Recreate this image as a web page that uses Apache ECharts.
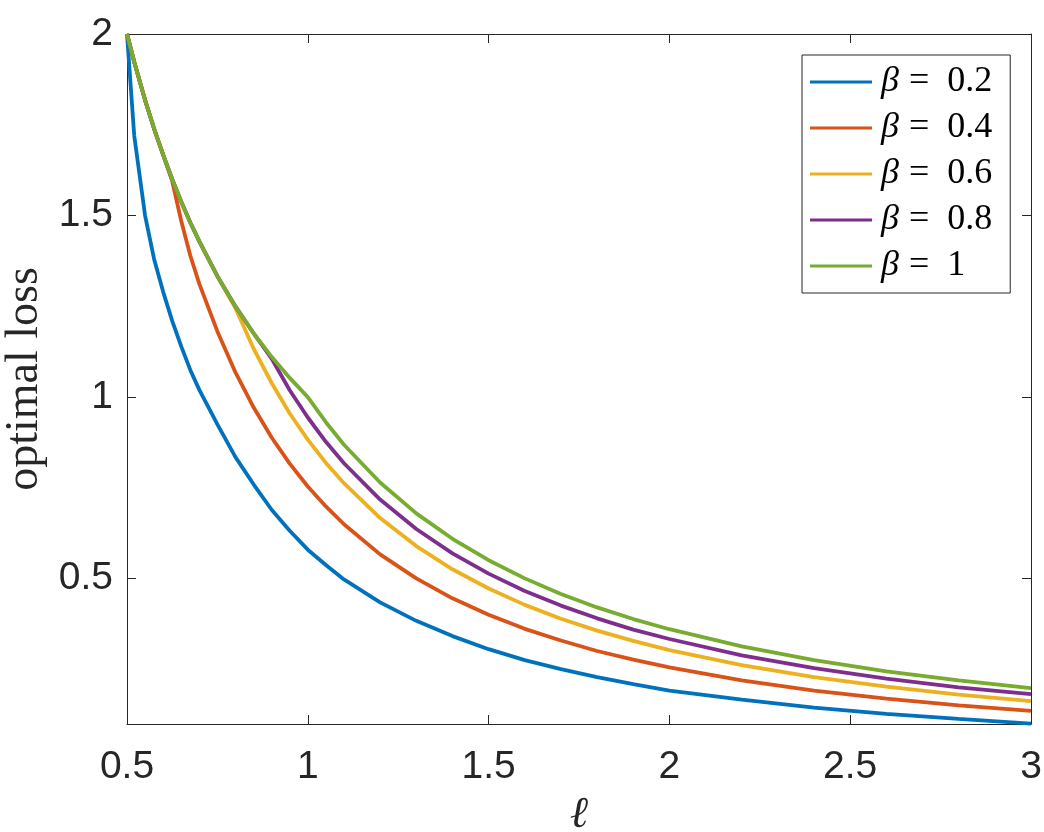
<!DOCTYPE html>
<html>
<head>
<meta charset="utf-8">
<script src="https://cdn.jsdelivr.net/npm/echarts@6/dist/echarts.min.js"></script>
<style>
  html, body { margin: 0; padding: 0; background: #fff; }
  #chart { width: 1044px; height: 832px; }
</style>
</head>
<body>
<div id="chart"></div>
<script>
// ell values (x axis)
const ell = [0.5, 0.52, 0.55, 0.575, 0.6, 0.625, 0.65, 0.675, 0.7, 0.75, 0.8, 0.85, 0.9, 0.95, 1.0,
  1.05, 1.1, 1.2, 1.3, 1.4, 1.5, 1.6, 1.7, 1.8, 1.9, 2.0, 2.2, 2.4, 2.6, 2.8, 3.0];

// optimal loss, one array per beta
const loss02 = [2.0, 1.72, 1.50, 1.38, 1.29, 1.21, 1.14, 1.075, 1.02, 0.925, 0.835, 0.76, 0.69, 0.632, 0.58,
  0.538, 0.498, 0.435, 0.384, 0.342, 0.306, 0.276, 0.251, 0.229, 0.210, 0.192, 0.167, 0.145, 0.128, 0.114, 0.101];
const loss04 = [2.0, 1.923, 1.818, 1.739, 1.667, 1.595, 1.485, 1.39, 1.312, 1.181, 1.068, 0.972, 0.889, 0.817, 0.754,
  0.699, 0.650, 0.567, 0.501, 0.446, 0.401, 0.362, 0.330, 0.301, 0.277, 0.256, 0.220, 0.192, 0.170, 0.151, 0.136];
const loss06 = [2.0, 1.923, 1.818, 1.739, 1.667, 1.6, 1.538, 1.481, 1.429, 1.333, 1.245, 1.134, 1.039, 0.955, 0.883,
  0.819, 0.763, 0.667, 0.590, 0.526, 0.473, 0.428, 0.390, 0.357, 0.329, 0.3035, 0.262, 0.229, 0.203, 0.181, 0.163];
const loss08 = [2.0, 1.923, 1.818, 1.739, 1.667, 1.6, 1.538, 1.481, 1.429, 1.333, 1.25, 1.176, 1.106, 1.019, 0.944,
  0.877, 0.818, 0.718, 0.637, 0.570, 0.514, 0.466, 0.426, 0.391, 0.360, 0.334, 0.289, 0.254, 0.225, 0.201, 0.182];
const loss10 = [2.0, 1.923, 1.818, 1.739, 1.667, 1.6, 1.538, 1.481, 1.429, 1.333, 1.25, 1.176, 1.111, 1.053, 1.0,
  0.931, 0.869, 0.765, 0.680, 0.610, 0.551, 0.501, 0.458, 0.421, 0.389, 0.361, 0.314, 0.276, 0.245, 0.220, 0.199];

const betas = ['0.2', '0.4', '0.6', '0.8', '1'];
const lossByBeta = [loss02, loss04, loss06, loss08, loss10];
const colors = ['#0072BD', '#D95319', '#EDB120', '#7E2F8E', '#77AC30'];

const yTicks = [0.5, 1, 1.5, 2];

const axisColor = '#262626';
const tickFont = 'Liberation Sans, Helvetica, Arial, sans-serif';
const serifFont = 'Liberation Serif, Times New Roman, serif';

const chart = echarts.init(document.getElementById('chart'));

const series = betas.map((b, i) => ({
  name: b,
  type: 'line',
  data: ell.map((x, k) => [x, lossByBeta[i][k]]),
  symbol: 'none',
  lineStyle: { width: 3.8, color: colors[i] },
  itemStyle: { color: colors[i] },
  z: 2 + i
}));

// shared settings for the box axes (MATLAB style: ticks inside, all four sides)
function xAx(pos, showLabels) {
  return {
    type: 'value', position: pos, min: 0.5, max: 3, interval: 0.5,
    axisLine: { show: true, onZero: false, lineStyle: { color: axisColor, width: 1 } },
    axisTick: { show: true, inside: true, length: 9, lineStyle: { color: axisColor } },
    axisLabel: { show: showLabels, color: axisColor, fontSize: 39, fontFamily: tickFont, margin: 24 },
    splitLine: { show: false },
    name: showLabels ? 'ℓ' : '',
    nameLocation: 'middle',
    nameGap: 69,
    nameTextStyle: { fontFamily: serifFont, fontStyle: 'italic', fontSize: 44, color: axisColor }
  };
}
function yAx(pos, showLabels) {
  return {
    type: 'value', position: pos, min: 0.1, max: 2,
    axisLine: { show: true, onZero: false, lineStyle: { color: axisColor, width: 1 } },
    axisTick: { show: true, inside: true, length: 9, customValues: yTicks, lineStyle: { color: axisColor } },
    axisLabel: { show: showLabels, customValues: yTicks, color: axisColor, fontSize: 39, fontFamily: tickFont, margin: 14 },
    splitLine: { show: false },
    name: showLabels ? 'optimal loss' : '',
    nameLocation: 'middle',
    nameRotate: 90,
    nameGap: 76,
    nameTextStyle: { fontFamily: serifFont, fontSize: 46, color: axisColor }
  };
}

const option = {
  backgroundColor: '#fff',
  animation: false,
  grid: { left: 127, right: 13, top: 34, bottom: 108, containLabel: false, outerBoundsMode: 'none' },
  xAxis: [xAx('bottom', true), xAx('top', false)],
  yAxis: [yAx('left', true), yAx('right', false)],
  legend: {
    orient: 'vertical',
    left: 802,
    top: 55,
    padding: [9, 18, 9, 8],
    itemGap: 10,
    itemWidth: 62,
    itemHeight: 3,
    icon: 'rect',
    backgroundColor: '#fff',
    borderColor: axisColor,
    borderWidth: 1,
    formatter: name => '{i|β}{e|=}{n|' + name + '}',
    textStyle: {
      padding: [0, 0, 0, 4],
      lineHeight: 36,
      rich: {
        i: { fontFamily: serifFont, fontStyle: 'italic', fontSize: 36, color: '#000', lineHeight: 36, padding: [0, 10, 0, 0] },
        e: { fontFamily: serifFont, fontSize: 36, color: '#000', lineHeight: 36, padding: [0, 18, 0, 0] },
        n: { fontFamily: serifFont, fontSize: 36, color: '#000', lineHeight: 36 }
      }
    },
    data: series.map(s => s.name)
  },
  series: series
};

chart.setOption(option);
</script>
</body>
</html>
